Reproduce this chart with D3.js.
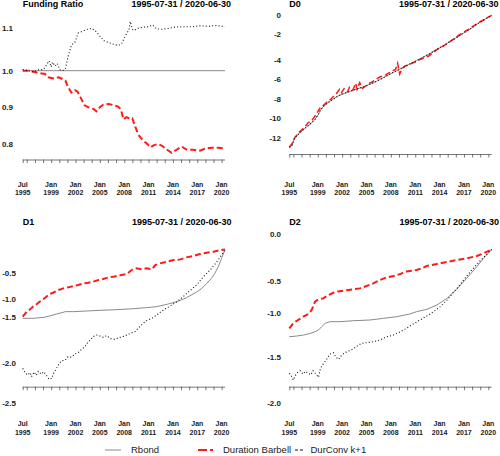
<!DOCTYPE html>
<html><head><meta charset="utf-8">
<script src="https://cdn.jsdelivr.net/npm/d3@7/dist/d3.min.js"></script>
<style>body{margin:0;background:#fff}svg{display:block}</style>
</head><body><svg id="c" width="500" height="456"></svg>
<script>
// ---------------- data ----------------
const startDate = "1995-07", endDate = "2020-06";
const dateRangeLabel = "1995-07-31 / 2020-06-30";
const seriesNames = ["Rbond", "Duration Barbell", "DurConv k+1"];
const panelTitles = ["Funding Ratio", "D0", "D1", "D2"];
const xLabelDates = ["1995-07","1999-01","2002-01","2005-01","2008-01","2011-01","2014-01","2017-01","2020-01"];

// Funding Ratio
const frTicks = [0.8, 0.9, 1.0, 1.1];
const frRbondDates = ["1995-07","2020-06"];
const frRbondValues = [1.0, 1.0];
const frBarbellDates = ["1995-07","1996-03","1996-11","1997-09","1998-04","1998-09","1999-04","1999-12","2000-05","2000-10","2001-02","2001-07","2001-12","2002-04","2002-09","2003-02","2003-08","2004-03","2004-08","2005-01","2005-06","2006-02","2006-09","2007-04","2007-08","2007-12","2008-04","2008-10","2009-01","2009-05","2009-10","2010-04","2010-10","2011-04","2011-09","2012-03","2012-09","2013-04","2013-11","2014-07","2015-02","2015-09","2016-07","2017-05","2017-12","2018-10","2019-08","2020-06"];
const frBarbellValues = [1.000,1.000,0.997,0.993,0.991,0.982,0.979,0.982,0.978,0.973,0.955,0.940,0.947,0.943,0.925,0.906,0.900,0.896,0.889,0.900,0.907,0.909,0.906,0.902,0.895,0.867,0.873,0.869,0.870,0.849,0.825,0.811,0.802,0.791,0.797,0.800,0.795,0.785,0.776,0.785,0.793,0.785,0.784,0.782,0.787,0.790,0.790,0.788];
const frDurConvDates = ["1995-07","1996-03","1996-11","1997-06","1998-02","1998-06","1998-10","1999-01","1999-03","1999-07","1999-10","2000-02","2000-06","2000-10","2001-02","2001-07","2001-12","2002-05","2002-12","2003-07","2004-01","2004-08","2005-01","2005-07","2006-02","2006-09","2007-04","2007-09","2008-01","2008-05","2008-08","2008-10","2009-01","2009-04","2009-08","2010-05","2011-01","2011-07","2012-01","2012-08","2013-06","2014-04","2015-04","2016-05","2017-05","2018-05","2019-06","2020-06"];
const frDurConvValues = [1.003,1.000,0.997,1.002,1.003,1.013,1.023,1.009,1.020,1.011,1.017,1.002,1.000,1.005,1.033,1.060,1.066,1.088,1.093,1.097,1.099,1.091,1.081,1.070,1.066,1.062,1.059,1.063,1.076,1.088,1.095,1.115,1.097,1.094,1.099,1.102,1.103,1.107,1.098,1.097,1.099,1.102,1.103,1.103,1.105,1.104,1.106,1.103];

// D0
const d0Ticks = [-12, -10, -8, -6, -4, -2, 0];
const d0SmoothDates = ["1995-07","1995-11","1996-02","1996-06","1996-11","1997-06","1998-02","1998-09","1999-02","1999-05","1999-10","2000-05","2000-12","2001-07","2002-03","2003-01","2003-11","2004-08","2005-06","2006-04","2007-02","2007-12","2008-10","2009-07","2010-05","2011-03","2012-01","2012-11","2013-09","2014-07","2015-04","2016-02","2016-12","2017-10","2018-08","2019-06","2020-06"];
const d0RbondValues = [-12.9,-12.7,-12.1,-11.73,-11.43,-11.0,-10.57,-10.1,-9.59,-9.14,-8.72,-8.34,-8.0,-7.69,-7.46,-7.22,-6.98,-6.78,-6.51,-6.2,-5.83,-5.45,-5.10,-4.79,-4.41,-4.07,-3.77,-3.49,-3.18,-2.90,-2.59,-2.28,-1.93,-1.48,-1.0,-0.55,-0.07];
const d0DurConvValues = [-12.9,-12.7,-12.1,-11.73,-11.43,-11.0,-10.57,-10.1,-9.59,-9.14,-8.72,-8.34,-8.0,-7.69,-7.46,-7.22,-6.98,-6.78,-6.51,-6.2,-5.83,-5.45,-5.10,-4.79,-4.41,-4.07,-3.77,-3.49,-3.18,-2.90,-2.59,-2.28,-1.93,-1.48,-1.0,-0.55,-0.07];
const d0BarbellDates = ["1995-07","1995-12","1996-03","1996-08","1997-01","1997-06","1997-11","1998-04","1998-09","1999-01","1999-05","1999-10","2000-03","2000-08","2001-01","2001-05","2001-09","2001-12","2002-04","2002-09","2002-12","2003-05","2003-09","2003-11","2004-03","2004-07","2004-12","2005-05","2005-10","2006-03","2006-08","2007-01","2007-06","2007-11","2008-04","2008-08","2008-11","2009-02","2009-06","2009-10","2010-03","2010-08","2011-01","2011-06","2011-11","2012-04","2012-09","2013-02","2013-07","2013-12","2014-07","2015-02","2015-09","2016-05","2016-12","2017-08","2018-03","2018-10","2019-06","2019-12","2020-06"];
const d0BarbellValues = [-12.9,-12.43,-11.93,-11.5,-11.17,-10.83,-10.43,-10.23,-9.76,-9.31,-8.86,-8.62,-8.28,-8.03,-7.69,-7.42,-7.02,-7.36,-6.95,-7.25,-6.81,-7.08,-6.41,-7.02,-6.34,-6.92,-6.68,-6.41,-6.24,-6.0,-5.79,-5.66,-5.52,-5.31,-5.10,-4.97,-4.34,-5.45,-4.86,-4.62,-4.52,-4.34,-4.21,-4.0,-3.90,-3.79,-3.69,-3.49,-3.28,-3.10,-2.92,-2.67,-2.41,-2.10,-1.83,-1.52,-1.17,-0.83,-0.55,-0.28,-0.07];

// D1
const d1Ticks = [-2.5, -2.0, -1.5, -1.0, -0.5];
const d1RbondDates = ["1995-07","1996-11","1998-02","1998-11","1999-09","2000-05","2000-10","2001-10","2003-06","2005-01","2007-02","2009-03","2010-10","2012-01","2013-04","2014-07","2015-09","2016-12","2017-08","2018-03","2018-10","2019-03","2019-08","2020-01","2020-06"];
const d1RbondValues = [-1.511,-1.511,-1.50,-1.464,-1.411,-1.375,-1.348,-1.348,-1.330,-1.3125,-1.295,-1.268,-1.241,-1.214,-1.152,-1.080,-0.981,-0.872,-0.80,-0.705,-0.609,-0.513,-0.385,-0.224,-0.055];
const d1BarbellDates = ["1995-07","1996-01","1996-06","1996-11","1997-04","1997-08","1998-01","1998-05","1998-10","1999-04","1999-12","2000-07","2001-02","2001-10","2002-05","2003-01","2003-08","2004-03","2004-11","2005-06","2006-02","2006-09","2007-07","2008-05","2008-12","2009-07","2010-03","2010-10","2011-06","2011-11","2012-06","2013-04","2014-02","2014-12","2015-09","2016-07","2017-05","2018-03","2019-01","2019-11","2020-06"];
const d1BarbellValues = [-1.482,-1.348,-1.286,-1.196,-1.143,-1.080,-1.018,-0.974,-0.917,-0.885,-0.833,-0.801,-0.782,-0.756,-0.737,-0.705,-0.692,-0.673,-0.641,-0.622,-0.590,-0.577,-0.551,-0.526,-0.449,-0.417,-0.436,-0.417,-0.436,-0.353,-0.321,-0.288,-0.256,-0.244,-0.205,-0.179,-0.141,-0.115,-0.096,-0.064,-0.055];
const d1DurConvDates = ["1995-07","1995-10","1996-02","1996-06","1996-08","1996-12","1997-03","1997-06","1997-10","1998-02","1998-06","1998-10","1999-02","1999-05","1999-09","2000-01","2000-05","2000-10","2001-02","2001-07","2001-12","2002-05","2002-10","2003-03","2003-07","2003-11","2004-03","2004-08","2005-01","2005-06","2005-11","2006-05","2006-11","2007-07","2008-02","2008-10","2009-05","2009-12","2010-05","2010-10","2011-06","2012-01","2012-11","2013-09","2014-07","2015-04","2016-02","2016-12","2017-10","2018-08","2019-06","2020-01","2020-06"];
const d1DurConvValues = [-2.071,-2.113,-2.154,-2.125,-2.175,-2.117,-2.158,-2.108,-2.142,-2.113,-2.158,-2.208,-2.196,-2.125,-2.071,-2.008,-1.978,-1.971,-1.934,-1.941,-1.904,-1.890,-1.853,-1.824,-1.779,-1.750,-1.713,-1.695,-1.706,-1.721,-1.702,-1.735,-1.743,-1.721,-1.706,-1.676,-1.658,-1.603,-1.566,-1.537,-1.511,-1.4375,-1.304,-1.196,-1.080,-0.962,-0.846,-0.737,-0.577,-0.449,-0.288,-0.160,-0.055];

// D2
const d2Ticks = [-2.0, -1.5, -1.0, -0.5, 0.0];
const d2RbondDates = ["1995-07","1996-06","1997-04","1998-02","1998-09","1999-02","1999-07","1999-12","2000-07","2001-10","2003-06","2005-06","2007-02","2008-10","2010-05","2011-03","2012-06","2013-09","2014-12","2016-02","2017-05","2018-08","2019-06","2020-06"];
const d2RbondValues = [-1.273,-1.265,-1.254,-1.235,-1.216,-1.197,-1.159,-1.121,-1.102,-1.102,-1.091,-1.083,-1.064,-1.045,-1.015,-0.984,-0.948,-0.880,-0.776,-0.635,-0.475,-0.35,-0.261,-0.164];
const d2BarbellDates = ["1995-07","1995-12","1996-06","1996-12","1997-05","1997-11","1998-04","1998-09","1999-02","1999-09","2000-05","2000-12","2001-07","2002-03","2002-10","2003-06","2004-03","2005-01","2005-11","2006-09","2007-07","2008-05","2009-03","2009-10","2010-05","2011-03","2011-11","2012-06","2013-09","2014-12","2016-02","2017-05","2018-08","2019-06","2020-06"];
const d2BarbellValues = [-1.178,-1.129,-1.091,-1.064,-1.038,-1.015,-0.958,-0.828,-0.792,-0.776,-0.724,-0.688,-0.667,-0.656,-0.646,-0.635,-0.620,-0.583,-0.542,-0.493,-0.464,-0.45,-0.429,-0.404,-0.396,-0.386,-0.368,-0.343,-0.321,-0.3,-0.279,-0.261,-0.236,-0.207,-0.164];
const d2DurConvDates = ["1995-07","1995-10","1996-01","1996-04","1996-07","1996-11","1997-03","1997-07","1997-11","1998-03","1998-06","1998-10","1999-02","1999-05","1999-09","2000-02","2000-07","2000-12","2001-04","2001-08","2001-12","2002-05","2002-12","2003-06","2003-11","2004-06","2005-01","2005-11","2006-09","2007-07","2008-05","2009-03","2009-12","2010-10","2011-08","2012-06","2013-04","2014-02","2014-12","2015-09","2016-07","2017-05","2018-03","2019-01","2019-11","2020-06"];
const d2DurConvValues = [-1.679,-1.707,-1.75,-1.7,-1.671,-1.65,-1.686,-1.657,-1.679,-1.693,-1.65,-1.686,-1.721,-1.625,-1.579,-1.529,-1.47,-1.455,-1.507,-1.529,-1.485,-1.455,-1.432,-1.409,-1.379,-1.348,-1.341,-1.330,-1.311,-1.273,-1.254,-1.216,-1.178,-1.129,-1.083,-1.038,-0.984,-0.906,-0.802,-0.688,-0.568,-0.45,-0.368,-0.286,-0.214,-0.164];

// ---------------- drawing ----------------
const parse = d3.timeParse("%Y-%m");
const FONT = "'Liberation Sans', Arial, Helvetica, sans-serif";
const styles = [
  {stroke: "#8a8a8a", width: 1, dash: null},
  {stroke: "#ff1a1a", width: 2, dash: "6,3"},
  {stroke: "#111111", width: 1.1, dash: "1,2.2"}
];
const zip = (ds, vs) => ds.slice(0, Math.min(ds.length, vs.length)).map((d, i) => ({date: parse(d), value: vs[i]}));

const panels = [
  {title: panelTitles[0], x0: 22.7, x1: 225, yTicks: frTicks, yPix: [144, 107.3, 70.7, 28], fmt: ".1f",
   labelX: 13, tickY: 159.5, monthY: 184.5, yearY: 192.5, titleY: 6.5, dateRight: 231, redW: 2,
   series: [zip(frRbondDates, frRbondValues), zip(frBarbellDates, frBarbellValues), zip(frDurConvDates, frDurConvValues)]},
  {title: panelTitles[1], x0: 289.3, x1: 491.7, yTicks: d0Ticks, yPix: [138.3, 118.3, 99, 79.3, 60, 34, 14.7], fmt: "d",
   labelX: 281, tickY: 154, monthY: 184.5, yearY: 192.5, titleY: 6.5, dateRight: 498.5, redW: 1.5,
   series: [zip(d0SmoothDates, d0RbondValues), zip(d0BarbellDates, d0BarbellValues), zip(d0SmoothDates, d0DurConvValues)]},
  {title: panelTitles[2], x0: 22.7, x1: 225, yTicks: d1Ticks, yPix: [402.7, 362.7, 317.3, 298.7, 272.7], fmt: ".1f",
   labelX: 16, tickY: 386.7, monthY: 424, yearY: 432.5, titleY: 225, dateRight: 231.5, redW: 2,
   series: [zip(d1RbondDates, d1RbondValues), zip(d1BarbellDates, d1BarbellValues), zip(d1DurConvDates, d1DurConvValues)]},
  {title: panelTitles[3], x0: 289.3, x1: 491.7, yTicks: d2Ticks, yPix: [403.3, 356.7, 312.7, 280.7, 234], fmt: ".1f",
   labelX: 281, tickY: 386.7, monthY: 424, yearY: 432.5, titleY: 225, dateRight: 499, redW: 2,
   series: [zip(d2RbondDates, d2RbondValues), zip(d2BarbellDates, d2BarbellValues), zip(d2DurConvDates, d2DurConvValues)]}
];

const svg = d3.select("#c").style("font-family", FONT);
const tickDates = [parse(startDate)].concat(d3.timeYear.range(parse("1996-01"), parse(endDate)));
const fmtMon = d3.timeFormat("%b"), fmtYear = d3.timeFormat("%Y");

panels.forEach(p => {
  const x = d3.scaleTime().domain([parse(startDate), parse(endDate)]).range([p.x0, p.x1]);
  const y = d3.scaleLinear().domain(p.yTicks).range(p.yPix);
  const g = svg.append("g");

  g.append("text").attr("x", p.x0).attr("y", p.titleY).attr("font-size", 9).attr("font-weight", "bold")
    .text(p.title);
  g.append("text").attr("x", p.dateRight).attr("y", p.titleY).attr("font-size", 9).attr("font-weight", "bold")
    .attr("text-anchor", "end").text(dateRangeLabel);

  const yf = d3.format(p.fmt);
  g.selectAll(".yl").data(p.yTicks).join("text")
    .attr("x", p.labelX).attr("y", d => y(d)).attr("dy", "0.35em")
    .attr("text-anchor", "end").attr("font-size", 8).attr("font-weight", "bold").attr("fill", "#222")
    .text(d => yf(d).replace("\u2212", "-"));

  const ax = d3.axisBottom(x).tickValues(tickDates).tickSize(3.5).tickFormat("");
  const axg = g.append("g").attr("transform", `translate(0,${p.tickY})`).call(ax);
  axg.select(".domain").attr("stroke", "#555").attr("stroke-width", 0.8)
    .attr("d", `M${p.x0},0.5H${p.x1}`);
  axg.selectAll(".tick line").attr("stroke", "#555").attr("stroke-width", 0.8);

  const xl = g.selectAll(".xl").data(xLabelDates.map(parse)).join("g");
  xl.append("text").attr("x", d => x(d)).attr("y", p.monthY).attr("dy", "0.35em")
    .attr("text-anchor", "middle").attr("font-size", 7).attr("font-weight", "bold").attr("fill", "#222").text(fmtMon);
  xl.append("text").attr("x", d => x(d)).attr("y", p.yearY).attr("dy", "0.35em")
    .attr("text-anchor", "middle").attr("font-size", 7).attr("font-weight", "bold").attr("fill", "#222").text(fmtYear);

  const line = d3.line().x(d => x(d.date)).y(d => y(d.value));
  p.series.forEach((s, i) => {
    g.append("path").datum(s).attr("d", line).attr("fill", "none")
      .attr("stroke", styles[i].stroke).attr("stroke-width", i === 1 ? p.redW : styles[i].width)
      .attr("stroke-dasharray", styles[i].dash);
  });
});

const legendItems = [
  {name: seriesNames[0], x1: 105, x2: 121, tx: 131},
  {name: seriesNames[1], x1: 198, x2: 213, tx: 223},
  {name: seriesNames[2], x1: 295, x2: 305, tx: 310.5}
];
const lg = svg.append("g");
legendItems.forEach((it, i) => {
  lg.append("line").attr("x1", it.x1).attr("x2", it.x2).attr("y1", 450).attr("y2", 450)
    .attr("stroke", styles[i].stroke).attr("stroke-width", i === 1 ? 2 : 1)
    .attr("stroke-dasharray", i === 1 ? "9,3" : (i === 2 ? "3,2" : null));
  lg.append("text").attr("x", it.tx).attr("y", 450).attr("dy", "0.35em").attr("font-size", 9.5)
    .attr("fill", "#222").text(it.name);
});
</script></body></html>
